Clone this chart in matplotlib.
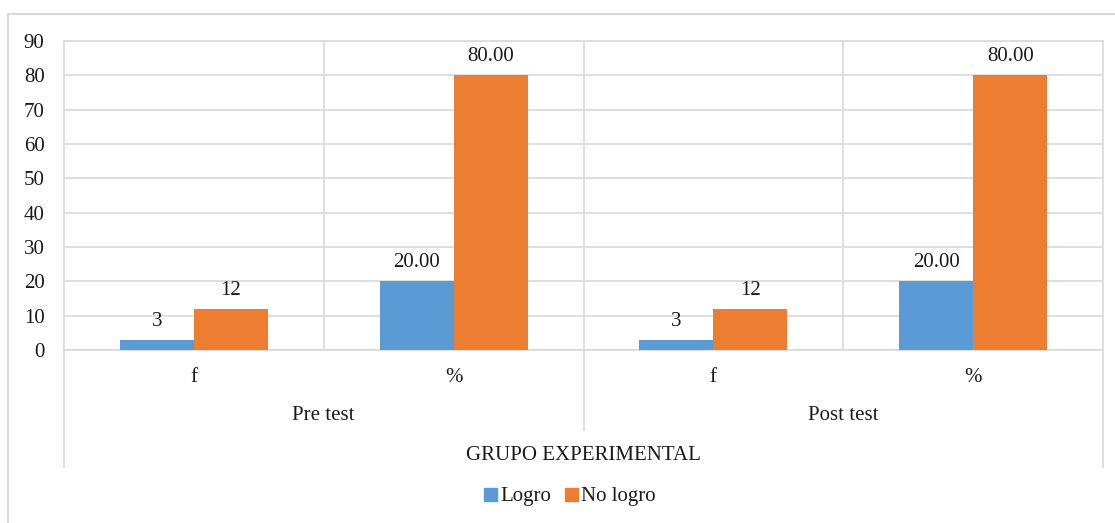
import numpy as np
import matplotlib.pyplot as plt
from matplotlib.lines import Line2D
from matplotlib.patches import Patch

categories = ["f", "%", "f", "%"]
groups = ["Pre test", "Post test"]
group_title = "GRUPO EXPERIMENTAL"
logro = [3, 20, 3, 20]
no_logro = [12, 80, 12, 80]
series_names = ["Logro", "No logro"]

BLUE = "#5B9BD5"
ORANGE = "#ED7D31"
GRID = "#D9D9D9"
TXT = "#1A1A1A"
FONT = "Liberation Serif"
FS = 15

plt.rcParams["font.family"] = [FONT, "DejaVu Serif"]

W, H = 1115, 523
fig = plt.figure(figsize=(W / 100, H / 100), dpi=100)

# plot area in pixel coords of the reference
left, right, top, bottom = 64, 1103, 41, 350
ax = fig.add_axes([left / W, 1 - bottom / H, (right - left) / W, (bottom - top) / H])

x = np.arange(len(categories))
bw = 0.285
ax.bar(x - bw / 2, logro, bw, color=BLUE, zorder=3)
ax.bar(x + bw / 2, no_logro, bw, color=ORANGE, zorder=3)


def fmt(v, cat):
    return f"{v:.2f}" if cat == "%" else f"{v}"


for i, cat in enumerate(categories):
    for xi, v in [(x[i] - bw / 2, logro[i]), (x[i] + bw / 2, no_logro[i])]:
        ax.annotate(fmt(v, cat), (xi, v), xytext=(0, 6.5), textcoords="offset points",
                    ha="center", va="bottom", fontsize=FS, color=TXT)

ax.set_xlim(-0.5, len(categories) - 0.5)
ax.set_ylim(0, 90)
ax.set_yticks(np.arange(0, 91, 10))
ax.set_xticks([])
ax.tick_params(axis="y", length=0, pad=14, labelsize=FS, labelcolor=TXT)
ax.grid(axis="y", color=GRID, lw=1.2, zorder=0)
for xv in [0.5, 1.5, 2.5]:
    ax.axvline(xv, color=GRID, lw=1.2, zorder=0)
for s in ax.spines.values():
    s.set_color(GRID)
    s.set_linewidth(1.2)

# multi-level category axis
tr = ax.get_xaxis_transform()


def yfrac(py):
    return (bottom - py) / (bottom - top)


for xv, yend in [(-0.5, 467), (1.5, 430), (3.5, 467)]:
    ax.plot([xv, xv], [0, yfrac(yend)], transform=tr, color=GRID, lw=1.2, clip_on=False)

for i, cat in enumerate(categories):
    ax.text(x[i], yfrac(378), cat, transform=tr, ha="center", va="center", fontsize=FS, color=TXT)
for j, g in enumerate(groups):
    ax.text(2 * j + 0.5, yfrac(415), g, transform=tr, ha="center", va="center", fontsize=FS, color=TXT)
ax.text(1.5, yfrac(455), group_title, transform=tr, ha="center", va="center", fontsize=FS, color=TXT)

# outer chart frame (left and top edges visible)
fig.add_artist(Line2D([8 / W, 8 / W], [0, 1 - 14 / H], color=GRID, lw=1.5))
fig.add_artist(Line2D([8 / W, 1], [1 - 14 / H, 1 - 14 / H], color=GRID, lw=1.5))

handles = [Patch(color=BLUE), Patch(color=ORANGE)]
fig.legend(handles, series_names, loc="center", bbox_to_anchor=(570 / W, 1 - 497 / H),
           ncol=2, frameon=False, fontsize=FS, handlelength=0.6, handleheight=0.6,
           handletextpad=0.15, columnspacing=0.7, labelcolor=TXT)

fig.savefig("out.png", dpi=100)
